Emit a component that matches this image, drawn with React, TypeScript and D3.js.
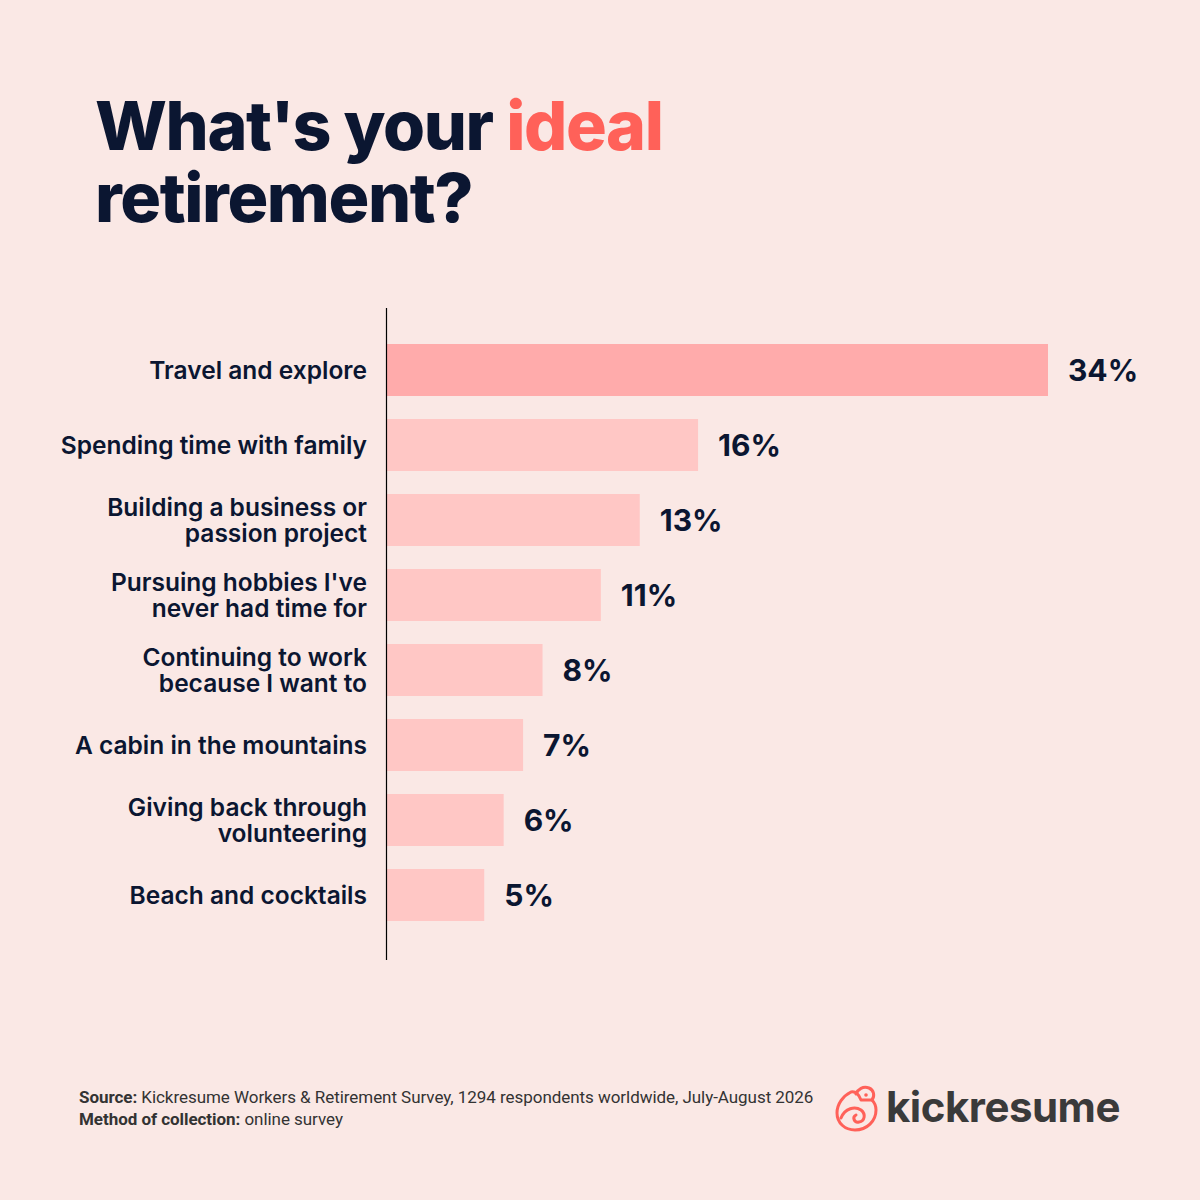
import React from "react";
import * as d3 from "d3";

const categories: string[][] = [
  ["Travel and explore"],
  ["Spending time with family"],
  ["Building a business or", "passion project"],
  ["Pursuing hobbies I've", "never had time for"],
  ["Continuing to work", "because I want to"],
  ["A cabin in the mountains"],
  ["Giving back through", "volunteering"],
  ["Beach and cocktails"],
];
const values: number[] = [34, 16, 13, 11, 8, 7, 6, 5];
const valueLabels: string[] = ["34%", "16%", "13%", "11%", "8%", "7%", "6%", "5%"];

const BG = "#FAE8E5";
const NAVY = "#0B1631";
const CORAL = "#FF6159";
const BAR_TOP = "#FFABAB";
const BAR = "#FFC7C5";
const FONT = "Inter, 'Noto Sans', sans-serif";

export default function App() {
  const W = 1200, H = 1200;
  const x = d3.scaleLinear().domain([0, 34]).range([387, 1048]);
  const y = d3
    .scaleBand<number>()
    .domain(d3.range(values.length))
    .range([306.5, 958.5])
    .paddingInner(23 / 75)
    .paddingOuter(0.5);
  const bw = y.bandwidth();

  return (
    <svg width={W} height={H} style={{ display: "block", position: "absolute", left: 0, top: 0 }}>
      <rect width={W} height={H} fill={BG} />
      <text x={95} y={150} fontFamily={FONT} fontWeight={800} fontSize={68} fill={NAVY} letterSpacing={-1.4}>
        What's your <tspan fill={CORAL}>ideal</tspan>
      </text>
      <text x={95} y={222} fontFamily={FONT} fontWeight={800} fontSize={68} fill={NAVY} letterSpacing={-1.4}>
        retirement?
      </text>

      {values.map((v, i) => {
        const y0 = y(i)!;
        const cy = y0 + bw / 2;
        const lines = categories[i];
        return (
          <g key={i}>
            <rect x={x(0)} y={y0} width={x(v) - x(0)} height={bw} fill={i === 0 ? BAR_TOP : BAR} />
            {lines.map((l, j) => (
              <text
                key={j}
                x={367}
                y={cy + (j - (lines.length - 1) / 2) * 26}
                dy="0.35em"
                textAnchor="end"
                fontFamily={FONT}
                fontWeight={600}
                fontSize={24.5}
                letterSpacing={0}
                fill={NAVY}
              >
                {l}
              </text>
            ))}
            <text
              x={x(v) + 20}
              y={cy}
              dy="0.36em"
              fontFamily={FONT}
              fontWeight={700}
              fontSize={30}
              fill={NAVY}
            >
              {valueLabels[i]}
            </text>
          </g>
        );
      })}
      <line x1={386.5} x2={386.5} y1={308} y2={960} stroke="#000" strokeWidth={1.2} />

      <text x={79} y={1103} fontFamily="Roboto, sans-serif" fontSize={17} fill="#333" letterSpacing={-0.05}>
        <tspan fontWeight={700}>Source:</tspan> Kickresume Workers &amp; Retirement Survey, 1294 respondents worldwide, July-August 2026
      </text>
      <text x={79} y={1125} fontFamily="Roboto, sans-serif" fontSize={17} fill="#333" letterSpacing={-0.05}>
        <tspan fontWeight={700}>Method of collection:</tspan> online survey
      </text>

      <g transform="translate(857,1110)" fill="none" stroke={CORAL} strokeWidth={3} strokeLinecap="round" strokeLinejoin="round">
        <path d="M -6 -18 C -14 -14 -20 -6 -20 3 C -20 13 -12 20 -2 20 C 10 20 19 11 19 0 C 19 -4 17 -8 15 -10 L 4 -10 C 2 -15 -1 -19 -6 -18 Z" />
        <path d="M 15 -10 C 18 -14 17 -20 12 -22 C 6 -24 1 -21 -1 -16" />
        <circle cx={9} cy={-15} r={1.8} fill={CORAL} stroke="none" />
        <path d="M -16 8 C -12 -2 -2 -4 4 0 C 9 4 8 11 2 12 C -3 13 -5 7 -1 5" />
      </g>
      <text x={886} y={1122} fontFamily={FONT} fontWeight={700} fontSize={42} fill="#3A3A3A" letterSpacing={-0.5}>
        kickresume
      </text>
    </svg>
  );
}
